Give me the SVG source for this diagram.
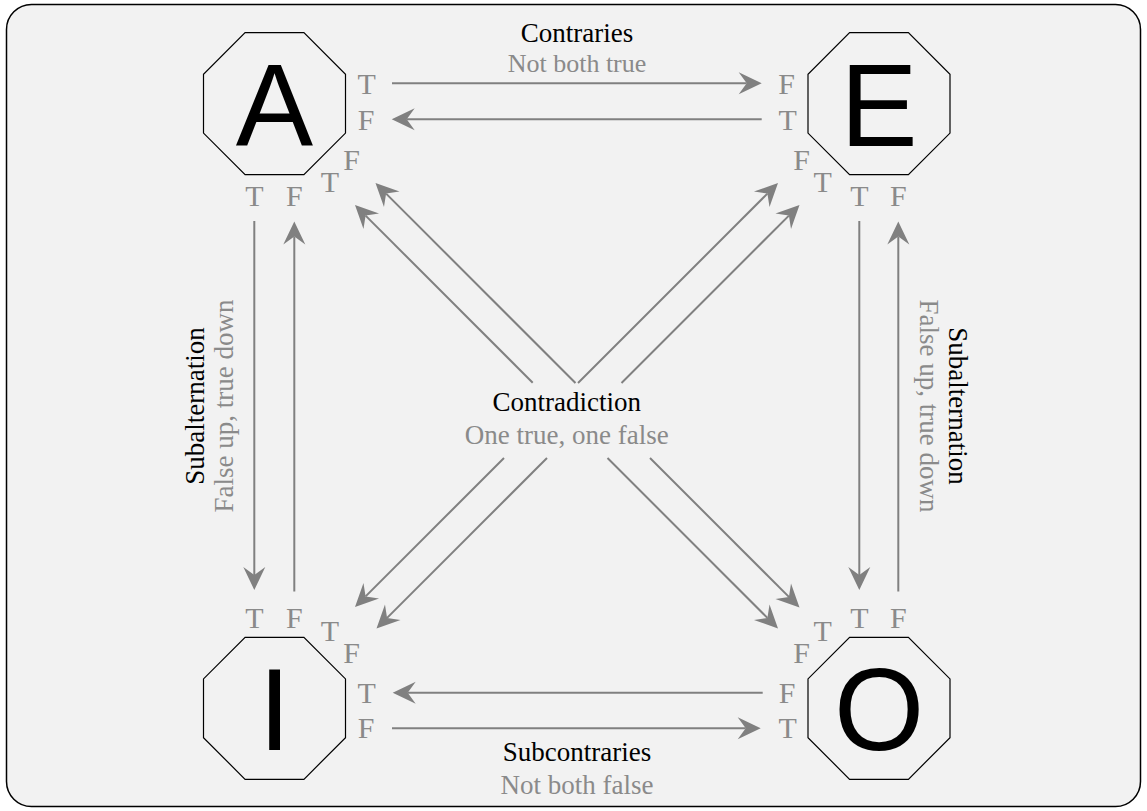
<svg xmlns="http://www.w3.org/2000/svg" width="1147" height="811" viewBox="0 0 1147 811">
<style>
.bg{fill:#f2f2f2;stroke:#000;stroke-width:1.5}
.oct{fill:#f2f2f2;stroke:#000;stroke-width:1.2}
.big{font-family:"Liberation Sans",Arial,sans-serif;font-size:116px;fill:#000;text-anchor:middle}
.tf{font-family:"Liberation Serif","Times New Roman",serif;font-size:30px;fill:#8a8a8a;text-anchor:middle}
.ttl{font-family:"Liberation Serif","Times New Roman",serif;font-size:27px;fill:#000;text-anchor:middle}
.sub{font-family:"Liberation Serif","Times New Roman",serif;font-size:27px;fill:#8a8a8a;text-anchor:middle}
.con line{stroke:#808080;stroke-width:2;fill:none;marker-end:url(#ah)}
</style>
<defs>
<marker id="ah" markerUnits="userSpaceOnUse" viewBox="-10 -12 28 24" refX="0" refY="0" markerWidth="28" markerHeight="24" orient="auto" overflow="visible">
<path d="M15,0 L-8,-11 L0,0 L-8,11 Z" fill="#808080"/>
</marker>
</defs>
<rect class="bg" x="6.5" y="4.5" width="1134" height="802" rx="25" ry="25"/>

<g id="connectors" class="con">
<line x1="392" y1="83.3" x2="746.7" y2="83.3"/>
<line x1="761.7" y1="119.3" x2="406.7" y2="119.3"/>
<line x1="254.3" y1="221" x2="254.3" y2="575"/>
<line x1="294.3" y1="591.5" x2="294.3" y2="236.5"/>
<line x1="859.3" y1="221" x2="859.3" y2="575"/>
<line x1="898.3" y1="591.5" x2="898.3" y2="236.5"/>
<line x1="762.7" y1="692.7" x2="407.7" y2="692.7"/>
<line x1="392" y1="728.3" x2="745.7" y2="728.3"/>
<line x1="532.7" y1="382.7" x2="365.6" y2="215.6"/>
<line x1="575.5" y1="383" x2="386.1" y2="193.6"/>
<line x1="578" y1="383" x2="767.4" y2="193.6"/>
<line x1="621.5" y1="383" x2="788.9" y2="215.6"/>
<line x1="504" y1="458" x2="365.6" y2="596.4"/>
<line x1="547" y1="458" x2="387.1" y2="617.9"/>
<line x1="607.5" y1="458" x2="767.4" y2="617.9"/>
<line x1="650" y1="458" x2="788.9" y2="596.9"/>
</g>

<g id="node-A">
<polygon class="oct" points="245.1,32.7 303.9,32.7 345.5,74.3 345.5,133.1 303.9,174.7 245.1,174.7 203.5,133.1 203.5,74.3"/>
<text class="big" x="274.5" y="146">A</text>
<text class="tf" x="366.7" y="94">T</text>
<text class="tf" x="366" y="130">F</text>
<text class="tf" x="351.7" y="170">F</text>
<text class="tf" x="330" y="191.7">T</text>
<text class="tf" x="254.3" y="206">T</text>
<text class="tf" x="294.3" y="206">F</text>
</g>

<g id="node-E">
<polygon class="oct" points="849.6,32.7 908.4,32.7 950,74.3 950,133.1 908.4,174.7 849.6,174.7 808,133.1 808,74.3"/>
<text class="big" x="879" y="146">E</text>
<text class="tf" x="786.7" y="94">F</text>
<text class="tf" x="787.7" y="130">T</text>
<text class="tf" x="801.7" y="170">F</text>
<text class="tf" x="822.7" y="191.7">T</text>
<text class="tf" x="859.3" y="206">T</text>
<text class="tf" x="898.3" y="206">F</text>
</g>

<g id="node-I">
<polygon class="oct" points="245.1,637.3 303.9,637.3 345.5,678.9 345.5,737.7 303.9,779.3 245.1,779.3 203.5,737.7 203.5,678.9"/>
<text class="big" x="274.5" y="750">I</text>
<text class="tf" x="254.3" y="627.7">T</text>
<text class="tf" x="294.3" y="627.7">F</text>
<text class="tf" x="330" y="641">T</text>
<text class="tf" x="351.7" y="663.3">F</text>
<text class="tf" x="366.7" y="703.3">T</text>
<text class="tf" x="366" y="738.3">F</text>
</g>

<g id="node-O">
<polygon class="oct" points="849.6,637.3 908.4,637.3 950,678.9 950,737.7 908.4,779.3 849.6,779.3 808,737.7 808,678.9"/>
<text class="big" x="879" y="750">O</text>
<text class="tf" x="859.3" y="627.7">T</text>
<text class="tf" x="898.3" y="627.7">F</text>
<text class="tf" x="822.7" y="641">T</text>
<text class="tf" x="801.7" y="663.3">F</text>
<text class="tf" x="787" y="703.3">F</text>
<text class="tf" x="787.7" y="738.3">T</text>
</g>

<g id="label-contraries">
<text class="ttl" x="577" y="41.5">Contraries</text>
<text class="sub" x="577" y="71.5" style="font-size:26px">Not both true</text>
</g>
<g id="label-subcontraries">
<text class="ttl" x="577" y="760.5">Subcontraries</text>
<text class="sub" x="577" y="794">Not both false</text>
</g>
<g id="label-contradiction">
<text class="ttl" x="566.7" y="411">Contradiction</text>
<text class="sub" x="566.7" y="444">One true, one false</text>
</g>
<g id="label-subalternation-left">
<text class="ttl" transform="translate(204,406) rotate(-90)" x="0" y="0">Subalternation</text>
<text class="sub" transform="translate(233,406) rotate(-90)" x="0" y="0">False up, true down</text>
</g>
<g id="label-subalternation-right">
<text class="ttl" transform="translate(949,406) rotate(90)" x="0" y="0">Subalternation</text>
<text class="sub" transform="translate(920,406) rotate(90)" x="0" y="0">False up, true down</text>
</g>
</svg>
